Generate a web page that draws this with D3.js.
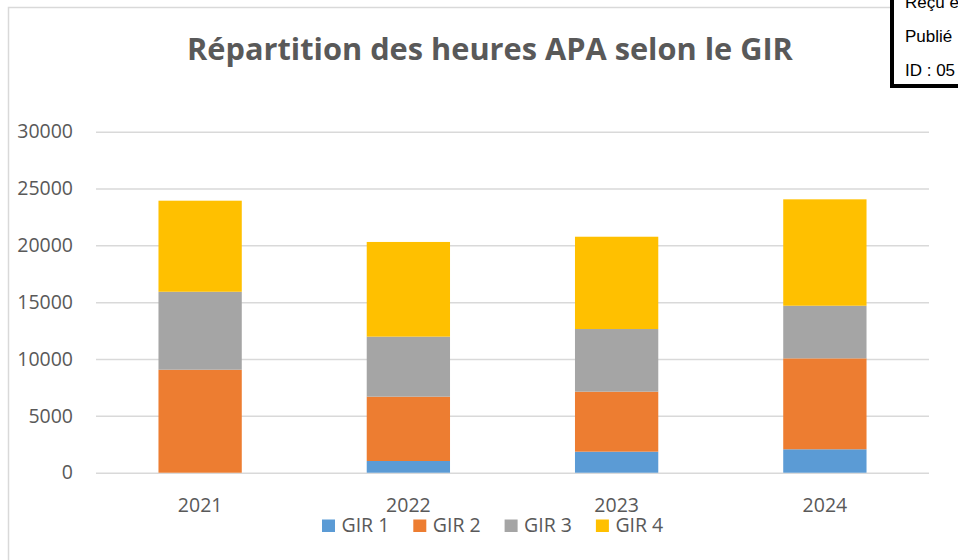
<!DOCTYPE html>
<html>
<head>
<meta charset="utf-8">
<script src="https://cdn.jsdelivr.net/npm/d3@7"></script>
<style>
  html, body { margin: 0; padding: 0; background: #fff; }
  svg { display: block; }
</style>
</head>
<body>
<svg id="chart" width="958" height="560"></svg>
<script>
const years = ["2021", "2022", "2023", "2024"];
const seriesNames = ["GIR 1", "GIR 2", "GIR 3", "GIR 4"];
const gir1 = [0, 1030, 1850, 2060];
const gir2 = [9060, 5660, 5280, 8000];
const gir3 = [6860, 5280, 5510, 4630];
const gir4 = [8010, 8330, 8120, 9360];
const yTicks = [0, 5000, 10000, 15000, 20000, 25000, 30000];
const colors = ["#5B9BD5", "#ED7D31", "#A5A5A5", "#FFC000"];
const titleText = "Répartition des heures APA selon le GIR";
const stampLines = ["Reçu e", "Publié", "ID : 05"];

const seriesValues = [gir1, gir2, gir3, gir4];
const rows = years.map((yr, i) => {
  const r = { year: yr };
  seriesNames.forEach((s, j) => r[s] = seriesValues[j][i]);
  return r;
});

const svg = d3.select("#chart");
const font = "'Open Sans', sans-serif";
const textColor = "#595959";

// chart frame
svg.append("rect")
  .attr("x", 8.5).attr("y", 7.5)
  .attr("width", 1000).attr("height", 600)
  .attr("fill", "#fff")
  .attr("stroke", "#D9D9D9").attr("stroke-width", 1.5);

const plot = { left: 96, right: 929, top: 131.7, bottom: 472.7 };

const x = d3.scaleBand()
  .domain(years)
  .range([plot.left, plot.right])
  .paddingInner(0.6)
  .paddingOuter(0.3);

const y = d3.scaleLinear()
  .domain([0, 30000])
  .range([plot.bottom, plot.top]);

// gridlines + y labels
const yAxis = d3.axisLeft(y)
  .tickValues(yTicks)
  .tickSize(-(plot.right - plot.left))
  .tickPadding(23)
  .tickFormat(d3.format("d"));

const gy = svg.append("g")
  .attr("transform", `translate(${plot.left},0)`)
  .call(yAxis);
gy.select(".domain").remove();
gy.selectAll(".tick line")
  .attr("stroke", "#D9D9D9").attr("stroke-width", 1.5);
gy.selectAll(".tick text")
  .attr("fill", textColor)
  .style("font-family", font)
  .style("font-size", "19.5px");

// bars
const stack = d3.stack().keys(seriesNames);
const stacked = stack(rows);

svg.append("g").selectAll("g")
  .data(stacked)
  .join("g")
  .attr("fill", (d, i) => colors[i])
  .selectAll("rect")
  .data(d => d)
  .join("rect")
  .attr("x", d => x(d.data.year))
  .attr("width", x.bandwidth())
  .attr("y", d => y(d[1]))
  .attr("height", d => y(d[0]) - y(d[1]));

// x labels
const xAxis = d3.axisBottom(x).tickSize(0).tickPadding(0);
const gx = svg.append("g")
  .attr("transform", `translate(0,${plot.bottom})`)
  .call(xAxis);
gx.select(".domain").remove();
gx.selectAll(".tick text")
  .attr("fill", textColor)
  .attr("dy", null)
  .attr("y", 39)
  .style("font-family", font)
  .style("font-size", "19.5px");

// legend
const legendX = d3.scaleLinear().domain([0, 1]).range([322, 413.3]);
const legend = svg.append("g");
const li = legend.selectAll("g")
  .data(seriesNames)
  .join("g")
  .attr("transform", (d, i) => `translate(${legendX(i)},0)`);
li.append("rect")
  .attr("x", 0).attr("y", 519.5)
  .attr("width", 13).attr("height", 12.5)
  .attr("fill", (d, i) => colors[i]);
li.append("text")
  .attr("x", 19.5).attr("y", 532)
  .attr("fill", textColor)
  .style("font-family", font)
  .style("font-size", "19.5px")
  .text(d => d);

// title
const title = svg.append("text")
  .attr("x", 490).attr("y", 60)
  .attr("text-anchor", "middle")
  .attr("fill", textColor)
  .style("font-family", font)
  .style("font-weight", "bold")
  .style("font-size", "28px")
  .text(titleText);
const tw = title.node().getComputedTextLength();
title.style("font-size", (28 * 606 / tw) + "px");

// stamp box (top right)
svg.append("rect")
  .attr("x", 892).attr("y", -10)
  .attr("width", 100).attr("height", 96)
  .attr("fill", "#fff")
  .attr("stroke", "#000").attr("stroke-width", 4);
svg.append("g").selectAll("text")
  .data(stampLines)
  .join("text")
  .attr("x", 905)
  .attr("y", (d, i) => 8 + i * 34)
  .attr("fill", "#000")
  .style("font-family", "'Liberation Sans', Arial, sans-serif")
  .style("font-size", "17px")
  .text(d => d);
</script>
</body>
</html>
